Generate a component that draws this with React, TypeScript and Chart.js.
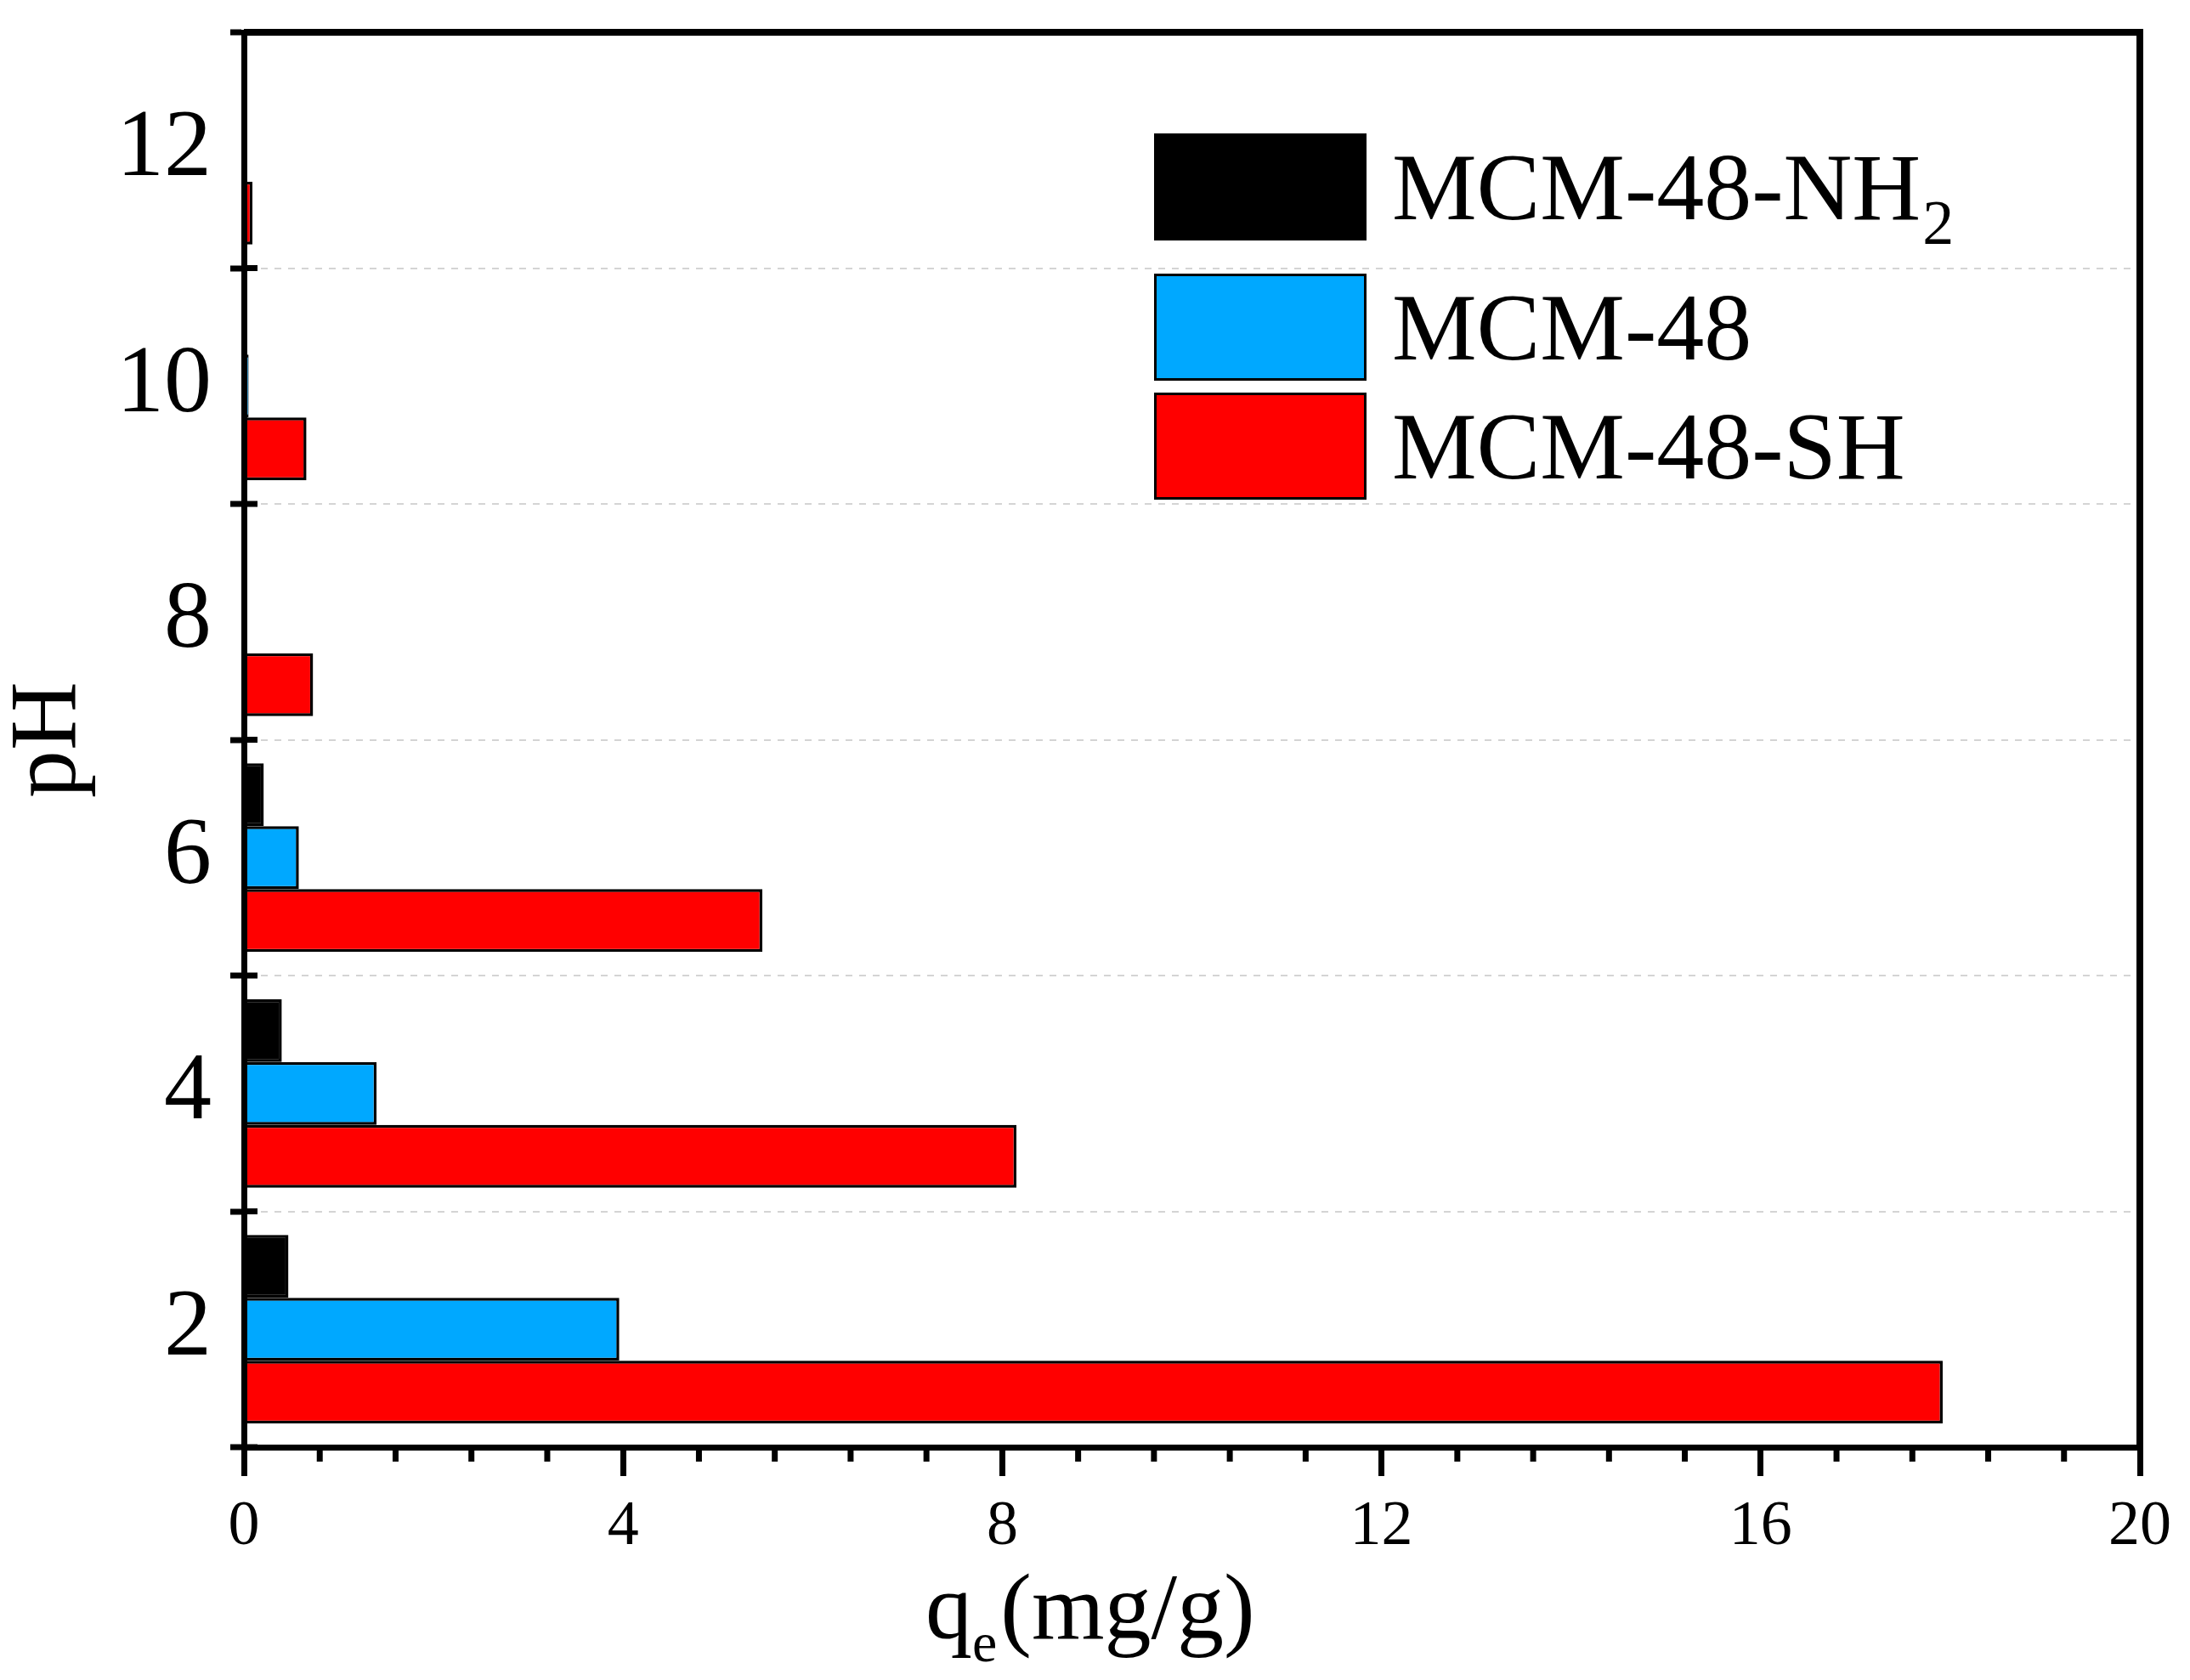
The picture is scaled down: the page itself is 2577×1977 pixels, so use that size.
import React, { useEffect, useRef } from 'react';
import { Chart, registerables } from 'chart.js';

Chart.register(...registerables);

// ---- data ----
const pH = ['2', '4', '6', '8', '10', '12'];
const seriesNames = ['MCM-48-NH₂', 'MCM-48', 'MCM-48-SH'];
const nh2Values = [0.47, 0.40, 0.21, 0.01, 0.02, 0.01];
const mcm48Values = [3.96, 1.40, 0.58, 0.02, 0.05, 0.02];
const shValues = [17.92, 8.15, 5.47, 0.73, 0.66, 0.09];
const seriesColors = ['#000000', '#00A8FF', '#FF0000'];
const xMin = 0;
const xMax = 20;
const xMajorStep = 4;
const xMinorStep = 0.8;
const xTitleMain = 'q';
const xTitleSub = 'e';
const xTitleRest = '(mg/g)';
const yTitle = 'pH';

const W = 2577;
const H = 1977;
const FONT = "'Liberation Serif', 'Times New Roman', serif";

const rev = <T,>(a: T[]): T[] => [...a].reverse();

const decorPlugin = {
  id: 'decor',
  afterDraw(chart: any) {
    const ctx = chart.ctx as CanvasRenderingContext2D;
    const ca = chart.chartArea;
    const xs = chart.scales.x;
    const ys = chart.scales.y;
    ctx.save();
    ctx.strokeStyle = '#000';
    ctx.lineCap = 'butt';

    // frame: top and right
    ctx.lineWidth = 8;
    ctx.beginPath();
    ctx.moveTo(ca.left, ca.top);
    ctx.lineTo(ca.right + 4, ca.top);
    ctx.moveTo(ca.right, ca.top);
    ctx.lineTo(ca.right, ca.bottom);
    ctx.stroke();

    // inner parts of y ticks (crossing ticks at category boundaries)
    ctx.lineWidth = 7;
    ctx.beginPath();
    for (let i = 0; i <= ys.getLabels().length; i++) {
      const y = ys.getPixelForValue(i - 0.5);
      ctx.moveTo(ca.left, y);
      ctx.lineTo(ca.left + 16, y);
    }
    ctx.stroke();

    // minor x ticks
    const n = Math.round((xMax - xMin) / xMinorStep);
    const perMajor = Math.round(xMajorStep / xMinorStep);
    ctx.lineWidth = 7;
    ctx.beginPath();
    for (let k = 1; k < n; k++) {
      if (k % perMajor === 0) continue;
      const x = xs.getPixelForValue(xMin + k * xMinorStep);
      ctx.moveTo(x, ca.bottom);
      ctx.lineTo(x, ca.bottom + 17);
    }
    ctx.stroke();

    // x axis title with subscript
    ctx.fillStyle = '#000';
    ctx.textBaseline = 'alphabetic';
    ctx.textAlign = 'left';
    const base = ca.bottom + 225;
    let tx = ca.left + 802;
    ctx.font = `110px ${FONT}`;
    ctx.fillText(xTitleMain, tx, base);
    tx += ctx.measureText(xTitleMain).width;
    ctx.font = `66px ${FONT}`;
    ctx.fillText(xTitleSub, tx, base + 27);
    tx += ctx.measureText(xTitleSub).width + 4;
    ctx.font = `110px ${FONT}`;
    ctx.fillText(xTitleRest, tx, base);

    // legend inside plot
    const boxL = ca.left + 1071;
    const boxW = 250;
    const boxH = 126;
    const rowOffsets = [182, 347, 487];
    const textX = ca.left + 1351;
    chart.data.datasets.forEach((ds: any, i: number) => {
      const cy = ca.top + rowOffsets[i];
      ctx.fillStyle = ds.backgroundColor;
      ctx.fillRect(boxL, cy - boxH / 2, boxW, boxH);
      ctx.lineWidth = 3;
      ctx.strokeStyle = '#000';
      ctx.strokeRect(boxL + 1.5, cy - boxH / 2 + 1.5, boxW - 3, boxH - 3);
      const label: string = ds.label;
      const subIdx = label.indexOf('₂');
      const main = subIdx >= 0 ? label.slice(0, subIdx) : label;
      ctx.fillStyle = '#000';
      ctx.font = `112px ${FONT}`;
      ctx.fillText(main, textX, cy + 38);
      if (subIdx >= 0) {
        const w = ctx.measureText(main).width;
        ctx.font = `74px ${FONT}`;
        ctx.fillText('2', textX + w + 2, cy + 38 + 29);
      }
    });

    ctx.restore();
  },
};

export default function App() {
  const ref = useRef<HTMLCanvasElement | null>(null);

  useEffect(() => {
    if (!ref.current) return;
    const values = [nh2Values, mcm48Values, shValues];
    const chart = new Chart(ref.current, {
      type: 'bar',
      data: {
        labels: rev(pH),
        datasets: seriesNames.map((name, i) => ({
          label: name,
          data: rev(values[i]),
          backgroundColor: seriesColors[i],
          borderColor: '#000000',
          borderWidth: 3.5,
          categoryPercentage: 0.8,
          barPercentage: 1.0,
        })),
      },
      options: {
        indexAxis: 'y',
        responsive: false,
        maintainAspectRatio: false,
        animation: false,
        devicePixelRatio: 1,
        layout: { padding: { left: 0, top: 38, right: 59, bottom: 0 } },
        plugins: {
          legend: { display: false },
          tooltip: { enabled: false },
          title: { display: false },
        },
        scales: {
          x: {
            type: 'linear',
            position: 'bottom',
            min: xMin,
            max: xMax,
            ticks: {
              stepSize: xMajorStep,
              color: '#000',
              font: { family: FONT, size: 74 },
              padding: 16,
              maxRotation: 0,
            },
            grid: {
              display: true,
              drawOnChartArea: false,
              drawTicks: true,
              tickLength: 34,
              tickWidth: 7,
              tickColor: '#000',
              lineWidth: 7,
              color: '#000',
            },
            border: { display: true, color: '#000', width: 7, z: 1 },
            title: { display: false },
            afterFit: (s: any) => {
              s.height = 274;
              s.paddingLeft = 0;
              s.paddingRight = 0;
            },
          },
          y: {
            type: 'category',
            position: 'left',
            offset: true,
            grid: {
              display: true,
              offset: true,
              drawOnChartArea: true,
              drawTicks: true,
              tickLength: 16,
              tickWidth: 7,
              tickColor: '#000',
              tickBorderDash: [],
              color: '#d4d4d4',
              lineWidth: 2,
            },
            border: { display: true, color: '#000', width: 7, dash: [8, 8], z: 1 },
            ticks: {
              color: '#000',
              font: { family: FONT, size: 112 },
              padding: 22,
            },
            title: {
              display: true,
              text: yTitle,
              color: '#000',
              font: { family: FONT, size: 112, lineHeight: 1 },
              padding: { top: 3, bottom: 0 },
            },
            afterFit: (s: any) => {
              s.width = 287;
              s.paddingTop = 0;
              s.paddingBottom = 0;
            },
          },
        },
      } as any,
      plugins: [decorPlugin],
    });
    return () => chart.destroy();
  }, []);

  return (
    <div style={{ position: 'absolute', left: 0, top: 0, width: W, height: H, background: '#fff' }}>
      <canvas ref={ref} width={W} height={H} style={{ display: 'block', width: W, height: H }} />
    </div>
  );
}
